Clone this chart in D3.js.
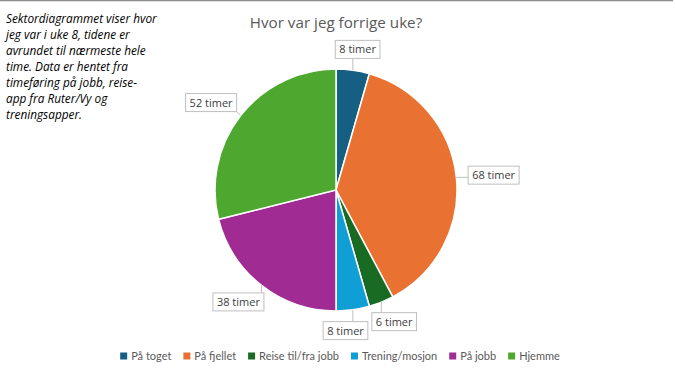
<!DOCTYPE html>
<html><head><meta charset="utf-8">
<script src="https://cdn.jsdelivr.net/npm/d3@7"></script>
<style>body{margin:0;background:#fff;}svg{display:block;}</style>
</head><body>
<svg id="c" width="675" height="377"></svg>
<script>
const categories = ["På toget","På fjellet","Reise til/fra jobb","Trening/mosjon","På jobb","Hjemme"];
const hours = [8,68,6,8,38,52];
const colors = ["#156082","#E97132","#196B24","#0F9ED5","#A02B93","#4EA72E"];
const title = "Hvor var jeg forrige uke?";
const noteLines = ["Sektordiagrammet viser hvor","jeg var i uke 8, tidene er","avrundet til nærmeste hele","time. Data er hentet fra","timeføring på jobb, reise-","app fra Ruter/Vy og","treningsapper."];
const labelSuffix = " timer";

const W=675,H=377;
const svg=d3.select("#c");
const font="Lato, 'Open Sans', sans-serif";
const font2="'Open Sans', Lato, sans-serif";
svg.append("rect").attr("width",W).attr("height",H).attr("fill","#fff");
svg.append("line").attr("x1",0).attr("x2",673).attr("y1",0.5).attr("y2",0.5).attr("stroke","#8c8c8c").attr("stroke-width",1.5);

svg.append("text").attr("x",336).attr("y",28).attr("text-anchor","middle")
  .attr("font-family",font2).attr("font-size",15.2).attr("fill","#595959").text(title);

const note=svg.append("text").attr("font-family",font2).attr("font-size",11.8).attr("font-style","italic").attr("fill","#000");
noteLines.forEach((l,i)=>note.append("tspan").attr("x",6).attr("y",23+i*16).text(l));

const cx=336,cy=190,r=121;
const data=categories.map((c,i)=>({cat:c,v:hours[i],col:colors[i]}));
const pie=d3.pie().value(d=>d.v).sort(null);
const arcs=pie(data);
const arc=d3.arc().innerRadius(0).outerRadius(r);
const g=svg.append("g").attr("transform",`translate(${cx},${cy})`);
g.selectAll("path").data(arcs).join("path").attr("d",arc).attr("fill",d=>d.data.col)
  .attr("stroke","#fff").attr("stroke-width",1.5);

// labels
const lg=svg.append("g");
const boxes=[];
arcs.forEach((a,i)=>{
  const th=(a.startAngle+a.endAngle)/2;
  const s=Math.sin(th),c=-Math.cos(th);
  const t=lg.append("text").attr("font-family",font2).attr("font-size",11).attr("fill","#404040")
    .attr("text-anchor","middle").text(a.data.v+labelSuffix);
  const tw=t.node().getComputedTextLength();
  const w=tw+8,h=18;
  const d=12;
  const px=cx+(r+d)*s, py=cy+(r+d)*c;
  let bx=px+w/2*s, by=py+h/2*c;
  boxes.forEach(b=>{
    if(Math.abs(bx-b.x)<(w+b.w)/2+2 && Math.abs(by-b.y)<(h+b.h)/2){
      bx = bx>b.x ? b.x+(w+b.w)/2+4 : b.x-(w+b.w)/2-4;
    }
  });
  boxes.push({x:bx,y:by,w,h,t,th,s,c});
});
boxes.forEach(b=>{
  const ex=cx+r*b.s, ey=cy+r*b.c;
  const nx=Math.max(b.x-b.w/2,Math.min(b.x+b.w/2,ex));
  const ny=Math.max(b.y-b.h/2,Math.min(b.y+b.h/2,ey));
  lg.insert("line","text").attr("x1",ex).attr("y1",ey).attr("x2",nx).attr("y2",ny).attr("stroke","#BFBFBF").attr("stroke-width",1);
  lg.insert("rect","text").attr("x",b.x-b.w/2).attr("y",b.y-b.h/2).attr("width",b.w).attr("height",b.h)
    .attr("fill","#fff").attr("stroke","#BFBFBF").attr("stroke-width",1);
  b.t.attr("x",b.x).attr("y",b.y+4);
});

// legend
const leg=svg.append("g");
let x=0;
const gap=12;
data.forEach((d,i)=>{
  const it=leg.append("g");
  it.append("rect").attr("x",0).attr("y",-3.5).attr("width",7).attr("height",7).attr("fill",d.col);
  const t=it.append("text").attr("x",11).attr("y",4).attr("font-family",font).attr("font-size",11).attr("fill","#595959").text(d.cat);
  const w=11+t.node().getComputedTextLength();
  it.attr("transform",`translate(${x},0)`);
  x+=w+gap;
});
const total=x-gap;
leg.attr("transform",`translate(${340-total/2},356)`);
</script>
</body></html>
